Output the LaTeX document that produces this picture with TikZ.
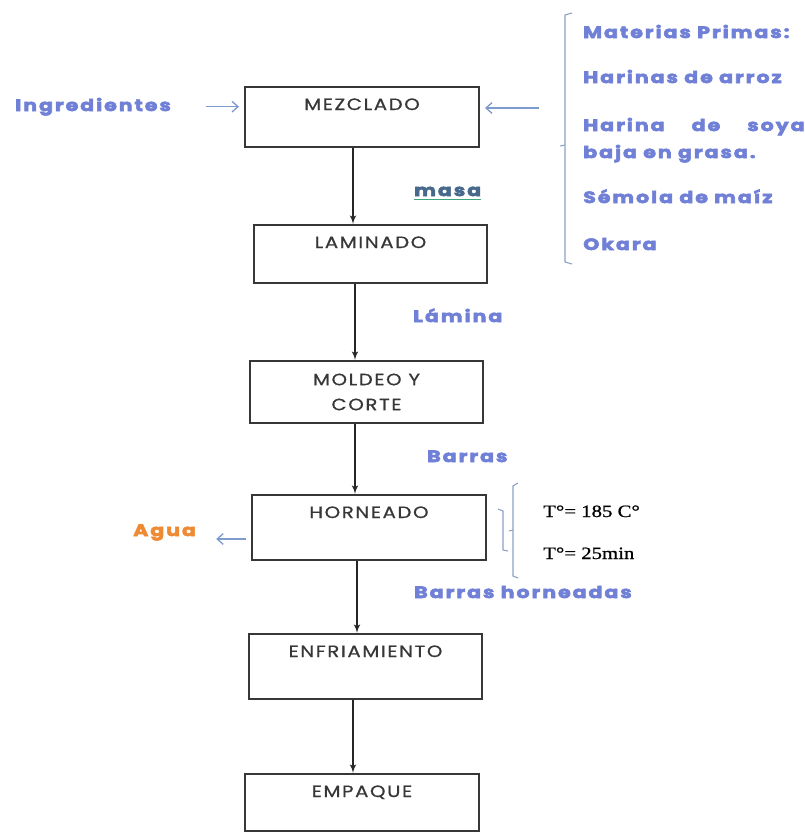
\documentclass[tikz,border=0pt]{standalone}
\usepackage{fontspec}
\setmainfont{Liberation Serif}
\newfontfamily\boxfont{Poppins}[FakeStretch=1.2,LetterSpace=10,FakeBold=0.8]
\newfontfamily\lblfont{Poppins}[FakeStretch=1.25,LetterSpace=12,FakeBold=3.5]
\newfontfamily\condfont{Liberation Serif}[FakeStretch=1.2,FakeBold=0.8]
\usetikzlibrary{arrows,arrows.meta}

\definecolor{lblblue}{RGB}{112,128,214}
\definecolor{feedblue}{RGB}{125,155,205}
\definecolor{brkblue}{RGB}{140,160,198}
\definecolor{aguaorange}{RGB}{238,138,52}
\definecolor{masateal}{RGB}{70,105,140}
\definecolor{masaline}{RGB}{60,165,125}
\definecolor{boxgray}{RGB}{55,55,55}

\tikzset{
  stagebox/.style={draw=boxgray, line width=1.5pt, minimum width=175pt,
    inner sep=3pt, text=boxgray, font=\boxfont\fontsize{12.3}{18.75}\selectfont},
  stage/.style={stagebox, text height=14.25pt, text depth=#1},
  flow/.style={->, >=latex', line width=1.2pt, black!85},
  feed/.style={-{Straight Barb[length=4.5pt,width=8pt]}, line width=1pt, feedblue},
  tag/.style={anchor=base west, inner sep=0pt, text=lblblue,
    font=\lblfont\bfseries\fontsize{12.3}{14}\selectfont},
  cond/.style={anchor=base west, inner sep=0pt, font=\condfont\fontsize{13}{15}\selectfont},
  brk/.style={brkblue, line width=0.8pt}
}

\begin{document}
\begin{tikzpicture}[x=0.75pt,y=-0.75pt]
  \useasboundingbox (0,0) rectangle (805,832);

  % process stages
  \node[stage=24.75pt] (mez) at (362,117) {MEZCLADO};
  \node[stage=23.25pt] (lam) at (370.5,254) {LAMINADO};
  \node[stagebox, minimum height=46.5pt, align=center] (mol) at (366.5,392) {MOLDEO Y\\CORTE};
  \node[stage=28.5pt] (hor) at (369,527.5) {HORNEADO};
  \node[stage=28.5pt] (enf) at (365.5,666.5) {ENFRIAMIENTO};
  \node[stage=22.5pt] (emp) at (362,802.5) {EMPAQUE};

  % flow between stages
  \draw[flow] (mez.south -| 353,0) -- (lam.north -| 353,0);
  \draw[flow] (lam.south -| 355,0) -- (mol.north -| 355,0);
  \draw[flow] (mol.south -| 355,0) -- (hor.north -| 355,0);
  \draw[flow] (hor.south -| 357,0) -- (enf.north -| 357,0);
  \draw[flow] (enf.south -| 353,0) -- (emp.north -| 353,0);

  % inputs of the mixing
  \node[tag] (ingr) at (15,111) {Ingredientes};
  \draw[feed] ([xshift=26pt]ingr.east) -- ([xshift=-4pt]ingr.east -| mez.west);
  \coordinate (raw) at (539,108);
  \draw[feed] (raw) -- ([xshift=4pt]raw -| mez.east);

  \draw[brk] (572,13) -- (565,15) -- (565,262) -- (572,264);
  \draw[brk] (565,145) -- (560,146);
  \node[tag] (mp) at (583,38) {Materias Primas:};
  \node[tag] (har) at (583,83) {Harinas de arroz};
  \node[tag] (soy) at (583,131) {\makebox[166pt][s]{Harina de soya}};
  \node[tag] (gra) at (583,158) {baja en grasa.};
  \node[tag] (sem) at (583,203) {Sémola de maíz};
  \node[tag] (oka) at (583,250) {Okara};

  % intermediate products
  \node[tag, text=masateal] (masa) at (414,196) {masa};
  \draw[masaline, line width=1pt] ([yshift=-2.5pt]masa.base west) -- ([yshift=-2.5pt]masa.base east);
  \node[tag] (lamina) at (413,322) {Lámina};
  \node[tag] (barras) at (427,462) {Barras};
  \node[tag] (barrash) at (414,598) {Barras horneadas};

  % baking
  \node[tag, text=aguaorange] (agua) at (133,536) {Agua};
  \coordinate (vapor) at (246,539);
  \draw[feed] (vapor) -- ([xshift=15pt]vapor -| agua.east);

  \draw[brk] (498,509) -- (503,511) -- (503,550) -- (508,551);
  \draw[brk] (518,483) -- (513,486) -- (513,576) -- (518,578);
  \draw[brk] (513,530) -- (509,531);
  \node[cond] (temp) at (543,517) {T°= 185 C°};
  \node[cond] (time) at (543,559) {T°= 25min};
\end{tikzpicture}
\end{document}
